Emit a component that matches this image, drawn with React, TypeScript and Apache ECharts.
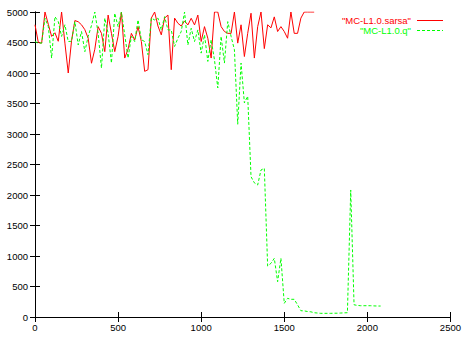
import React, { useEffect, useRef } from "react";
import * as echarts from "echarts";

const episodeStep = 20;
const xTicks = [0, 500, 1000, 1500, 2000, 2500];
const yTicks = [0, 500, 1000, 1500, 2000, 2500, 3000, 3500, 4000, 4500, 5000];
const sarsaName = '"MC-L1.0.sarsa"';
const qName = '"MC-L1.0.q"';

const sarsaSteps = [
  4790, 4500, 4490, 5000, 4800, 4600, 4660, 4520, 5000, 4490,
  4000, 4530, 4860, 4840, 4790, 4710, 4570, 4160, 4390, 4760,
  4650, 4350, 4950, 4650, 4350, 4600, 5000, 4245, 4390, 4650,
  4540, 4760, 4516, 4027, 4054, 4900, 5000, 4770, 4625, 4900,
  4950, 4054, 4900, 4815, 4770, 4853, 4788, 4897, 4788, 4950,
  4516, 4760, 4570, 4245, 5000, 5000, 4760, 4680, 4650, 4650,
  5000, 4490, 4790, 4270, 4650, 4980, 4245, 4760, 5000, 4400,
  4790, 4740, 4920, 4680, 4760, 4680, 4570, 5000, 4650, 4650,
  4900, 5000, 5000, 5000, 5000,
];

const qSteps = [
  4516, 4490, 4490, 4900, 4760, 4245, 4924, 4842, 4600, 4790,
  4516, 4520, 4842, 4460, 4680, 4350, 4600, 4780, 5000, 4650,
  4080, 4900, 4650, 4163, 4980, 4760, 5000, 4625, 4245, 4600,
  4516, 4870, 4545, 4516, 4300, 4900, 4870, 4900, 4706, 4924,
  4706, 4706, 4435, 4570, 4680, 5000, 4460, 4733, 4516, 4706,
  4326, 4625, 4190, 4545, 4217, 3755, 4600, 4163, 4842, 4600,
  4380, 3160, 4163, 3510, 3620, 2300, 2200, 2164, 2410, 2437,
  836, 880, 962, 579, 962, 224, 306, 290, 290, 200,
  103, 100, 90, 85, 70, 65, 60, 60, 60, 60,
  62, 62, 65, 68, 70, 2082, 200, 190, 185, 185,
  185, 185, 182, 180, 180,
];

const RED = "#ff0000";
const GREEN = "#00ff00";
const FONT = "Liberation Sans, Arial, sans-serif";

export default function App() {
  const ref = useRef<HTMLDivElement>(null);
  useEffect(() => {
    if (!ref.current) return;
    const chart = echarts.init(ref.current, undefined, { renderer: "svg" });
    const xMin = xTicks[0];
    const xMax = xTicks[xTicks.length - 1];
    const xInt = xTicks[1] - xTicks[0];
    const yMin = yTicks[0];
    const yMax = yTicks[yTicks.length - 1];
    const yInt = yTicks[1] - yTicks[0];
    const axisLine = { show: true, lineStyle: { color: "#000", width: 1 } };
    const tick = { show: true, inside: true, length: 5, lineStyle: { color: "#000" } };
    const plain = (v: number) => String(v);
    chart.setOption({
      animation: false,
      backgroundColor: "#fff",
      grid: { left: 35, right: 10, top: 12, bottom: 20, containLabel: false },
      xAxis: [
        {
          type: "value", min: xMin, max: xMax, interval: xInt, position: "bottom",
          axisLine, axisTick: tick, splitLine: { show: false },
          axisLabel: { color: "#000", fontSize: 9.5, fontFamily: FONT, margin: 5, formatter: plain },
        },
        {
          type: "value", min: xMin, max: xMax, interval: xInt, position: "top",
          axisLine, axisTick: tick, splitLine: { show: false }, axisLabel: { show: false },
        },
      ],
      yAxis: [
        {
          type: "value", min: yMin, max: yMax, interval: yInt, position: "left",
          axisLine, axisTick: tick, splitLine: { show: false },
          axisLabel: { color: "#000", fontSize: 9.5, fontFamily: FONT, margin: 7, formatter: plain },
        },
        {
          type: "value", min: yMin, max: yMax, interval: yInt, position: "right",
          axisLine, axisTick: tick, splitLine: { show: false }, axisLabel: { show: false },
        },
      ],
      series: [
        {
          name: sarsaName, type: "line", xAxisIndex: 0, yAxisIndex: 0,
          showSymbol: false, symbol: "none", clip: true,
          lineStyle: { color: RED, width: 1 },
          data: sarsaSteps.map((v, i) => [i * episodeStep, v]),
        },
        {
          name: qName, type: "line", xAxisIndex: 0, yAxisIndex: 0,
          showSymbol: false, symbol: "none", clip: true,
          lineStyle: { color: GREEN, width: 1, type: [3, 2] },
          data: qSteps.map((v, i) => [i * episodeStep, v]),
        },
      ],
      graphic: [
        {
          type: "text", right: 464 - 411, top: 15,
          style: { text: sarsaName, fill: RED, font: `9.5px ${FONT}`, textAlign: "right" },
        },
        {
          type: "line",
          shape: { x1: 417, y1: 20.5, x2: 443, y2: 20.5 },
          style: { stroke: RED, lineWidth: 1 },
        },
        {
          type: "text", right: 464 - 411, top: 25,
          style: { text: qName, fill: GREEN, font: `9.5px ${FONT}`, textAlign: "right" },
        },
        {
          type: "line",
          shape: { x1: 417, y1: 30.5, x2: 443, y2: 30.5 },
          style: { stroke: GREEN, lineWidth: 1, lineDash: [3, 2] },
        },
      ],
    });
    return () => chart.dispose();
  }, []);
  return (
    <div
      ref={ref}
      style={{ position: "fixed", left: 0, top: 0, width: 464, height: 337, background: "#fff" }}
    />
  );
}
